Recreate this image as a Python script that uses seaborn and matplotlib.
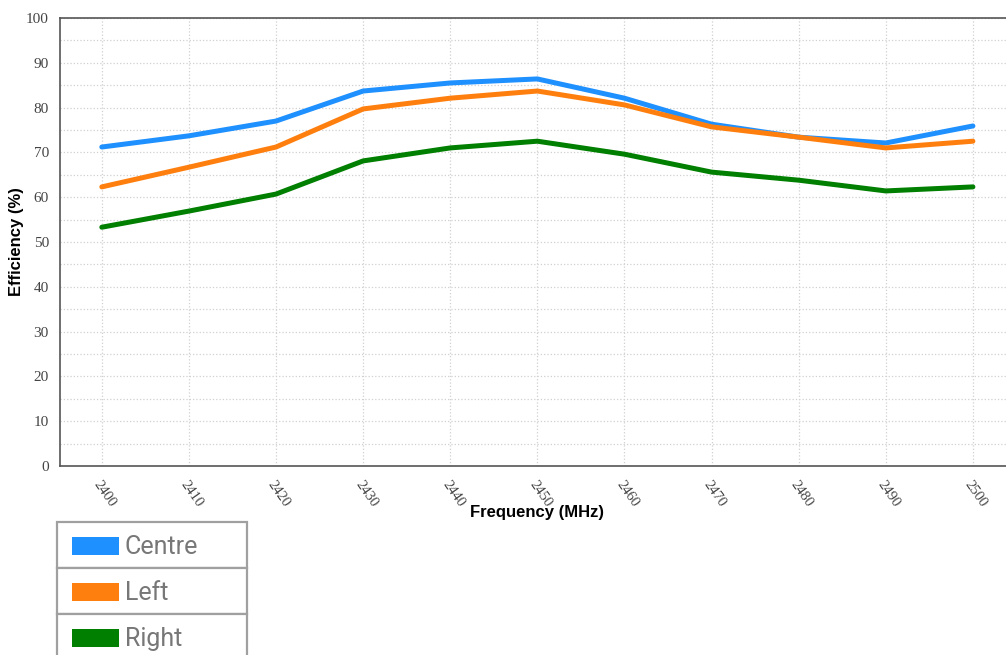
import matplotlib
matplotlib.use("Agg")
import matplotlib.pyplot as plt
from matplotlib.patches import Rectangle
from matplotlib.ticker import MultipleLocator
import numpy as np
import pandas as pd
import seaborn as sns

# data
freq = [2400, 2410, 2420, 2430, 2440, 2450, 2460, 2470, 2480, 2490, 2500]
centre = [71.2, 73.7, 77.0, 83.7, 85.5, 86.4, 82.1, 76.3, 73.4, 72.1, 75.9]
left = [62.3, 66.7, 71.2, 79.7, 82.1, 83.7, 80.6, 75.7, 73.4, 71.0, 72.5]
right = [53.3, 56.9, 60.7, 68.1, 71.0, 72.5, 69.6, 65.6, 63.8, 61.4, 62.3]
series_names = ["Centre", "Left", "Right"]
colors = ["#1e90ff", "#ff7f0e", "#007f00"]

df = pd.DataFrame({
    "Frequency": freq * 3,
    "Efficiency": centre + left + right,
    "Series": [s for s in series_names for _ in freq],
})

sns.set_style("white")
plt.rcParams["font.family"] = ["Liberation Sans", "DejaVu Sans"]

fig = plt.figure(figsize=(10.06, 6.55), dpi=100)
W, H = 1006, 655
ax_l, ax_b, ax_w, ax_h = 60, 466, 1006 - 60, 466 - 18
ax = fig.add_axes([ax_l / W, (H - ax_b) / H, ax_w / W, ax_h / H])

sns.lineplot(data=df, x="Frequency", y="Efficiency", hue="Series",
             palette=dict(zip(series_names, colors)), linewidth=3.6,
             legend=False, ax=ax)

ax.set_xlim(2395.2, 2503.8)
ax.set_ylim(0, 100)
ax.set_xticks(freq)
ax.yaxis.set_major_locator(MultipleLocator(10))
ax.yaxis.set_minor_locator(MultipleLocator(5))

ax.grid(True, which="both", color="#d0d0d0", linestyle=":", linewidth=0.9)
ax.set_axisbelow(True)
for side in ["left", "bottom", "top"]:
    ax.spines[side].set_color("#555555")
    ax.spines[side].set_linewidth(1.2)
ax.spines["right"].set_visible(False)

ax.tick_params(axis="both", which="both", direction="out", color="#555555",
               labelcolor="#444444")
ax.tick_params(axis="y", which="major", length=5, labelsize=11, pad=3)
ax.tick_params(axis="y", which="minor", length=4)
ax.tick_params(axis="x", length=5, labelsize=10.5, pad=4)
for lab in ax.get_yticklabels():
    lab.set_fontfamily("Liberation Serif")
for lab in ax.get_xticklabels():
    lab.set_fontfamily("Liberation Serif")
    lab.set_rotation(-55)
    lab.set_ha("left")
    lab.set_va("top")
    lab.set_rotation_mode("anchor")

ax.set_xlabel("Frequency (MHz)", fontsize=12, fontweight="bold", color="black")
ax.set_ylabel("Efficiency (%)", fontsize=12, fontweight="bold", color="black")
ax.xaxis.set_label_coords((537 - ax_l) / ax_w, -(512 - ax_b) / ax_h)
ax.yaxis.set_label_coords(-(60 - 17) / ax_w, (ax_b - 242) / ax_h)
ax.xaxis.label.set_va("center")
ax.yaxis.label.set_va("center")

# stacked legend boxes below the chart
row_h = 46
for i, (name, col) in enumerate(zip(series_names, colors)):
    top = 522 + i * row_h
    fig.patches.append(Rectangle((57 / W, (H - top - row_h) / H), 190 / W, row_h / H,
                                 transform=fig.transFigure, facecolor="white",
                                 edgecolor="#a0a0a0", linewidth=1.6))
    fig.patches.append(Rectangle((72 / W, (H - top - 33) / H), 47 / W, 18 / H,
                                 transform=fig.transFigure, facecolor=col,
                                 edgecolor="none"))
    fig.text(125 / W, (H - top - 25) / H, name, fontsize=18, color="#777777",
             family="Roboto", va="center", ha="left")

fig.savefig("out.png", dpi=100)
